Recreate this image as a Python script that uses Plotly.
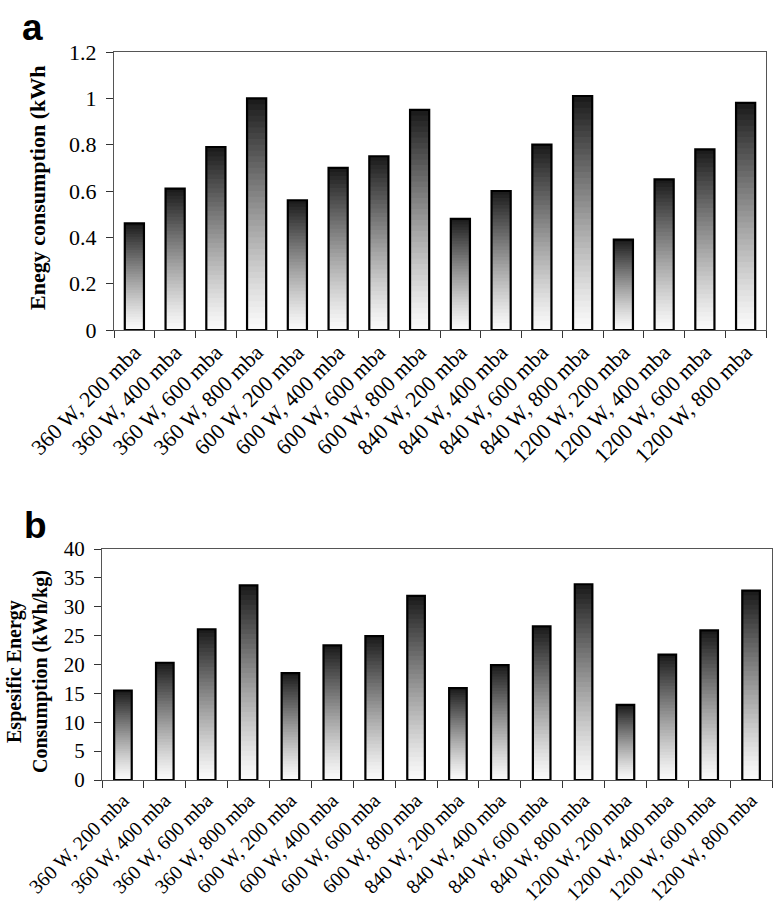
import plotly.graph_objects as go

categories = ["360 W, 200 mba", "360 W, 400 mba", "360 W, 600 mba", "360 W, 800 mba",
              "600 W, 200 mba", "600 W, 400 mba", "600 W, 600 mba", "600 W, 800 mba",
              "840 W, 200 mba", "840 W, 400 mba", "840 W, 600 mba", "840 W, 800 mba",
              "1200 W, 200 mba", "1200 W, 400 mba", "1200 W, 600 mba", "1200 W, 800 mba"]
energy_kwh = [0.46, 0.61, 0.79, 1.00, 0.56, 0.70, 0.75, 0.95,
              0.48, 0.60, 0.80, 1.01, 0.39, 0.65, 0.78, 0.98]
specific_kwh_kg = [15.5, 20.3, 26.1, 33.7, 18.5, 23.3, 24.9, 31.9,
                   15.9, 19.9, 26.6, 33.9, 13.0, 21.7, 25.9, 32.8]

W, H = 773, 923
SERIF = "Liberation Serif, Times New Roman, serif"
SANS = "Liberation Sans, Arial, sans-serif"
N = 40  # gradient steps


def gray(t):
    g = int(round(250 - 225 * (t ** 1.2)))
    return f"rgb({g},{g},{g})"


fig = go.Figure()


def add_gradient_bars(values, xa, ya, width):
    # overlapping bars from 0, tallest (darkest top) first, lighter shorter bars on top
    for k in range(N - 1, -1, -1):
        frac = (k + 1) / N
        t = (k + 0.5) / N
        fig.add_trace(go.Bar(
            x=categories, y=[v * frac for v in values],
            marker=dict(color=gray(t), line=dict(width=0)),
            width=width, xaxis=xa, yaxis=ya, showlegend=False, hoverinfo="skip"))
    fig.add_trace(go.Bar(
        x=categories, y=values,
        marker=dict(color="rgba(0,0,0,0)", line=dict(width=2.2, color="black")),
        width=width, xaxis=xa, yaxis=ya, showlegend=False))


add_gradient_bars(energy_kwh, "x", "y", 0.47)
add_gradient_bars(specific_kwh_kg, "x2", "y2", 0.42)

axis_common = dict(showgrid=False, zeroline=False, showline=True, mirror=True,
                   linecolor="#555", linewidth=1, ticks="outside", tickcolor="#333",
                   ticklen=7, tickwidth=1, automargin=False)

fig.update_layout(
    width=W, height=H, barmode="overlay",
    margin=dict(l=0, r=0, t=0, b=0, autoexpand=False),
    paper_bgcolor="white", plot_bgcolor="white",
    font=dict(family=SERIF, color="black"),
    xaxis=dict(domain=[114 / W, 766 / W], anchor="y", type="category",
               tickson="boundaries", tickangle=-45,
               tickfont=dict(size=22, family=SERIF), **axis_common),
    yaxis=dict(domain=[1 - 330 / H, 1 - 52 / H], anchor="x", range=[0, 1.2], dtick=0.2,
               tickfont=dict(size=22, family=SERIF), ticklabelstandoff=5, **axis_common),
    xaxis2=dict(domain=[102 / W, 772 / W], anchor="y2", type="category",
                tickson="boundaries", tickangle=-45,
                tickfont=dict(size=20, family=SERIF), **axis_common),
    yaxis2=dict(domain=[1 - 780 / H, 1 - 549 / H], anchor="x2", range=[0, 40], dtick=5,
                tickfont=dict(size=21, family=SERIF), ticklabelstandoff=5, **axis_common),
)

fig.add_annotation(text="<b>Enegy consumption (kWh</b>", textangle=-90,
                   x=37 / W, y=1 - 188 / H, xref="paper", yref="paper",
                   xanchor="center", yanchor="middle",
                   showarrow=False, font=dict(size=22, family=SERIF))
fig.add_annotation(text="<b>Espesific Energy<br>Consumption (kWh/kg)</b>", textangle=-90,
                   x=27 / W, y=1 - 672 / H, xref="paper", yref="paper",
                   xanchor="center", yanchor="middle",
                   showarrow=False, font=dict(size=20, family=SERIF))
fig.add_annotation(text="<b>a</b>", x=20 / W, y=1 - 28 / H, xref="paper", yref="paper",
                   xanchor="left", yanchor="middle", showarrow=False,
                   font=dict(size=37, family=SANS))
fig.add_annotation(text="<b>b</b>", x=22 / W, y=1 - 525 / H, xref="paper", yref="paper",
                   xanchor="left", yanchor="middle", showarrow=False,
                   font=dict(size=37, family=SANS))

fig.write_html("out.html", config={"displayModeBar": False},
               post_script="document.body.style.margin='0px';document.body.style.overflow='hidden';")
